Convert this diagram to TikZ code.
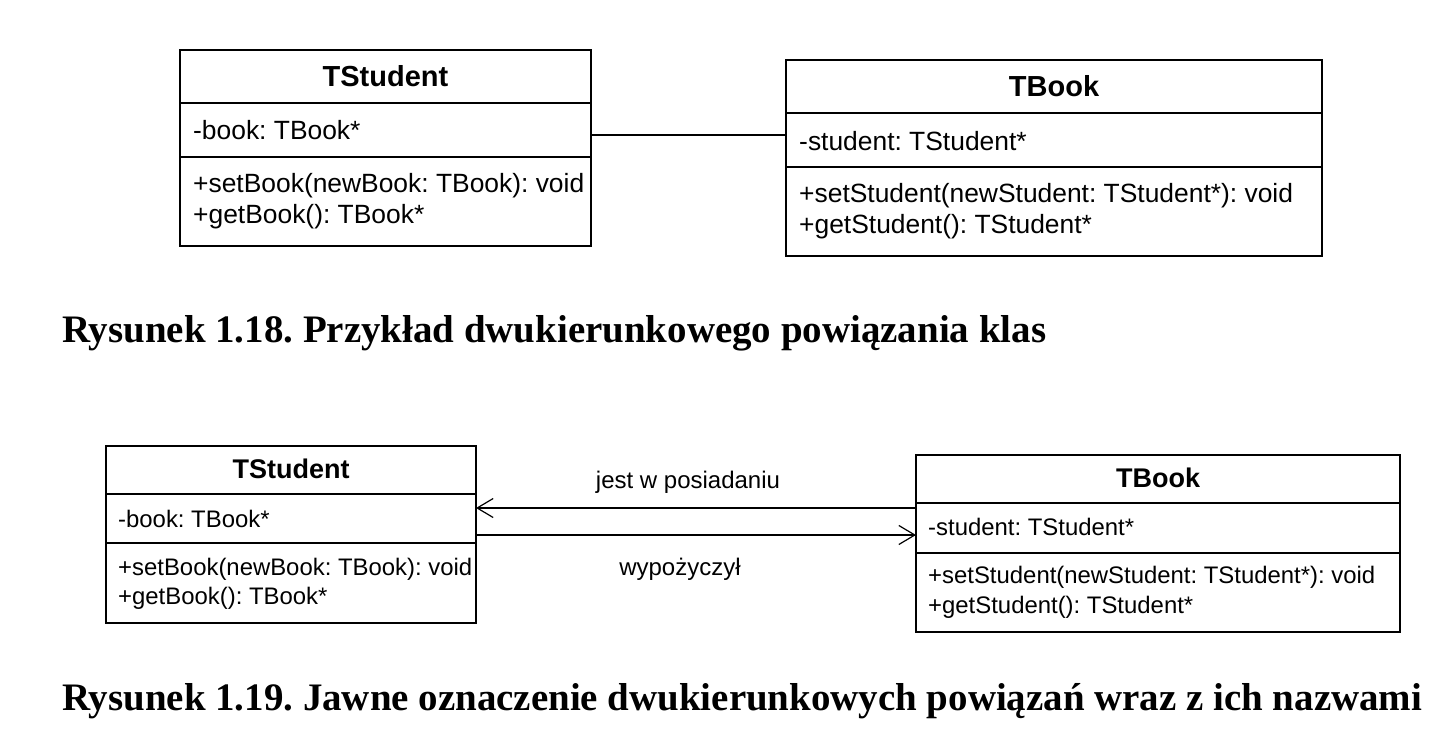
\documentclass[tikz,border=0pt]{standalone}
\usepackage{graphicx}
\usepackage{fontspec}
\setmainfont{Liberation Sans}
\newfontfamily\capfont{Liberation Serif}
\usetikzlibrary{arrows.meta,calc}
\frenchspacing
\begin{document}
\begin{tikzpicture}[x=1pt,y=-1pt,
  cls/.style={draw, line width=1.6pt, anchor=north west, inner sep=0pt, outer sep=0pt},
  sepline/.style={line width=1.6pt},
  txtA/.style={anchor=base west, inner sep=0pt, font=\fontsize{26.4}{30}\selectfont},
  ttlA/.style={anchor=base, inner sep=0pt, font=\fontsize{29}{34}\selectfont\bfseries},
  txtB/.style={anchor=base west, inner sep=0pt, font=\fontsize{23.9}{28}\selectfont},
  ttlB/.style={anchor=base, inner sep=0pt, font=\fontsize{27}{32}\selectfont\bfseries},
  lbl/.style={anchor=base, inner sep=0pt, font=\fontsize{24}{28}\selectfont},
  assoc/.style={line width=1.6pt},
  nav/.style={line width=1.6pt, -{Straight Barb[length=16pt,width=19pt,line width=1.2pt]}},
  capt/.style={anchor=base west, inner sep=0pt}
]
\useasboundingbox (0,0) rectangle (1448,744);

% ---------- Figure 1.18 ----------
\node[cls, minimum width=411pt, minimum height=196pt] (s1) at (180,50) {};
\draw[sepline] (180,103) -- (591,103);
\draw[sepline] (180,157) -- (591,157);
\node[ttlA] (s1t) at (385.5,86) {TStudent};
\node[txtA] (s1a) at (193,139) {-book: TBook*};
\node[txtA] (s1m1) at (193,192) {+setBook(newBook: TBook): void};
\node[txtA] (s1m2) at (193,223) {+getBook(): TBook*};

\node[cls, minimum width=536pt, minimum height=196pt] (b1) at (786,60) {};
\draw[sepline] (786,113) -- (1322,113);
\draw[sepline] (786,167) -- (1322,167);
\node[ttlA] (b1t) at (1054,96) {TBook};
\node[txtA] (b1a) at (799,150) {-student: TStudent*};
\node[txtA] (b1m1) at (799,202) {+setStudent(newStudent: TStudent*): void};
\node[txtA] (b1m2) at (799,233) {+getStudent(): TStudent*};

\coordinate (y0) at (0,135);
\draw[assoc] (s1.east |- y0) -- (b1.west |- y0);

\node[capt] (cap1) at (62,342) {\resizebox{984pt}{!}{\fontsize{34}{40}\selectfont\capfont\bfseries Rysunek 1.18. Przykład dwukierunkowego powiązania klas}};

% ---------- Figure 1.19 ----------
\node[cls, minimum width=370pt, minimum height=177pt] (s2) at (106,446) {};
\draw[sepline] (106,494) -- (476,494);
\draw[sepline] (106,543) -- (476,543);
\node[ttlB] (s2t) at (291,478) {TStudent};
\node[txtB] (s2a) at (118,527) {-book: TBook*};
\node[txtB] (s2m1) at (118,575) {+setBook(newBook: TBook): void};
\node[txtB] (s2m2) at (118,604) {+getBook(): TBook*};

\node[cls, minimum width=484pt, minimum height=177pt] (b2) at (916,455) {};
\draw[sepline] (916,503) -- (1400,503);
\draw[sepline] (916,553) -- (1400,553);
\node[ttlB] (b2t) at (1158,487) {TBook};
\node[txtB] (b2a) at (928,535) {-student: TStudent*};
\node[txtB] (b2m1) at (928,583) {+setStudent(newStudent: TStudent*): void};
\node[txtB] (b2m2) at (928,613) {+getStudent(): TStudent*};

\coordinate (y1) at (0,508);
\coordinate (y2) at (0,535);
\draw[nav] (b2.west |- y1) -- (s2.east |- y1);
\draw[nav] (s2.east |- y2) -- (b2.west |- y2);
\node[lbl] (l1) at (688,488) {jest w posiadaniu};
\node[lbl] (l2) at (680,575) {wypożyczył};

\node[capt] (cap2) at (62,710) {\resizebox{1360pt}{!}{\fontsize{34}{40}\selectfont\capfont\bfseries Rysunek 1.19. Jawne oznaczenie dwukierunkowych powiązań wraz z ich nazwami}};
\end{tikzpicture}
\end{document}
